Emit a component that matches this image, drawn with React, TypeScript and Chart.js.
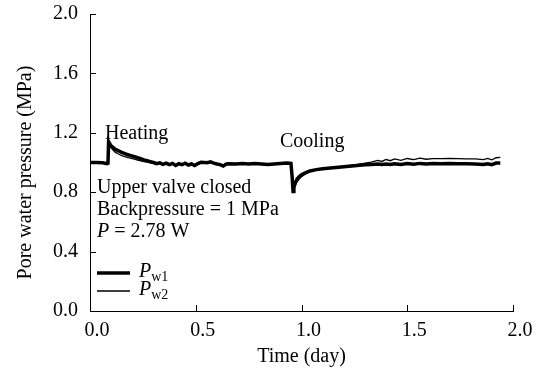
import React, { useEffect, useRef } from "react";
import { Chart, registerables } from "chart.js";

Chart.register(...registerables);

const timeDays = [
  0.0, 0.03, 0.06, 0.08, 0.085, 0.088, 0.092, 0.1, 0.11, 0.12, 0.135, 0.15, 0.165, 0.18, 0.195, 0.21, 0.225,
  0.24, 0.255, 0.27, 0.285, 0.3, 0.315, 0.33, 0.345, 0.36, 0.375, 0.39, 0.405, 0.42, 0.435, 0.45, 0.465, 0.48,
  0.495, 0.51, 0.525, 0.54, 0.555, 0.57, 0.585, 0.6, 0.615, 0.63, 0.645, 0.66, 0.69, 0.72, 0.75, 0.78, 0.81,
  0.84, 0.87, 0.9, 0.93, 0.95, 0.956, 0.96, 0.964, 0.97, 0.98, 0.99, 1.0, 1.02, 1.04, 1.07, 1.1, 1.15, 1.2,
  1.25, 1.3, 1.33, 1.36, 1.38, 1.4, 1.42, 1.44, 1.47, 1.5, 1.53, 1.56, 1.59, 1.62, 1.66, 1.7, 1.74, 1.78, 1.82,
  1.86, 1.88, 1.9, 1.92, 1.94,
];

const pw1 = [
  1.0, 1.0, 0.998, 0.992, 0.995, 1.14, 1.13, 1.112, 1.1, 1.088, 1.078, 1.068, 1.06, 1.052, 1.045, 1.04, 1.032,
  1.025, 1.018, 1.012, 1.006, 1.0, 0.992, 0.998, 0.988, 0.996, 0.986, 0.994, 0.98, 0.992, 0.985, 0.995, 0.983,
  0.99, 0.98, 0.993, 1.002, 1.0, 0.998, 1.004, 0.996, 0.99, 0.986, 0.976, 0.99, 0.992, 0.99, 0.993, 0.99, 0.994,
  0.99, 0.986, 0.99, 0.994, 0.996, 0.994, 0.9, 0.805, 0.83, 0.86, 0.89, 0.905, 0.918, 0.932, 0.943, 0.952, 0.958,
  0.965, 0.972, 0.978, 0.984, 0.986, 0.99, 0.986, 0.99, 0.986, 0.992, 0.987, 0.993, 0.988, 0.994, 0.99, 0.993,
  0.992, 0.993, 0.992, 0.991, 0.99, 0.986, 0.992, 0.985, 0.996, 0.997,
];

const pw2 = [
  1.0, 1.0, 0.998, 0.993, 0.995, 1.125, 1.118, 1.098, 1.082, 1.068, 1.057, 1.047, 1.04, 1.033, 1.027, 1.022, 1.016,
  1.011, 1.006, 1.002, 0.997, 0.994, 0.99, 0.994, 0.985, 0.992, 0.983, 0.99, 0.984, 0.988, 0.982, 0.99, 0.984,
  0.987, 0.983, 0.99, 0.998, 0.996, 0.995, 1.0, 0.993, 0.988, 0.984, 0.978, 0.988, 0.99, 0.989, 0.991, 0.988,
  0.992, 0.989, 0.986, 0.988, 0.993, 0.995, 0.994, 0.93, 0.86, 0.835, 0.85, 0.872, 0.89, 0.905, 0.925, 0.938,
  0.95, 0.957, 0.966, 0.975, 0.984, 0.995, 1.003, 1.014, 1.007, 1.02, 1.012, 1.024, 1.015, 1.027, 1.019, 1.029,
  1.022, 1.026, 1.026, 1.027, 1.026, 1.025, 1.024, 1.019, 1.028, 1.018, 1.032, 1.034,
];

const xTicks = [0, 0.5, 1.0, 1.5, 2.0];
const yTicks = [0, 0.4, 0.8, 1.2, 1.6, 2.0];

const seriesNames = ["w1", "w2"];
const annotationLines = ["Upper valve closed", "Backpressure = 1 MPa", " = 2.78 W"];
const yTitle = "Pore water pressure (MPa)";

const FONT = "'Liberation Serif', 'Times New Roman', serif";

const innerTicksAndText = {
  id: "innerTicksAndText",
  afterDraw(chart: any) {
    const { ctx, chartArea, scales } = chart;
    const xs = scales.x;
    const ys = scales.y;
    ctx.save();
    ctx.strokeStyle = "#000";
    ctx.lineWidth = 1;
    xTicks.forEach((v) => {
      const px = Math.round(xs.getPixelForValue(v)) + 0.5;
      if (v === 0) return;
      ctx.beginPath();
      ctx.moveTo(px, chartArea.bottom);
      ctx.lineTo(px, chartArea.bottom - 6);
      ctx.stroke();
    });
    yTicks.forEach((v) => {
      const py = Math.round(ys.getPixelForValue(v)) + 0.5;
      if (v === 0) return;
      ctx.beginPath();
      ctx.moveTo(chartArea.left, py);
      ctx.lineTo(chartArea.left + 6, py);
      ctx.stroke();
    });

    ctx.fillStyle = "#000";
    ctx.textBaseline = "alphabetic";
    ctx.textAlign = "left";
    ctx.font = `20px ${FONT}`;
    ctx.fillText("Heating", xs.getPixelForValue(0.071), ys.getPixelForValue(1.158));
    ctx.fillText("Cooling", xs.getPixelForValue(0.898), ys.getPixelForValue(1.104));
    const ax = xs.getPixelForValue(0.033);
    ctx.fillText(annotationLines[0], ax, ys.getPixelForValue(0.794));
    ctx.fillText(annotationLines[1], ax, ys.getPixelForValue(0.646));
    const py3 = ys.getPixelForValue(0.499);
    ctx.font = `italic 20px ${FONT}`;
    ctx.fillText("P", ax, py3);
    const pw = ctx.measureText("P").width;
    ctx.font = `20px ${FONT}`;
    ctx.fillText(annotationLines[2], ax + pw, py3);

    // y-axis title
    ctx.save();
    ctx.translate(26, (chartArea.top + chartArea.bottom) / 2 + 10);
    ctx.rotate(-Math.PI / 2);
    ctx.textAlign = "center";
    ctx.textBaseline = "middle";
    ctx.font = `20px ${FONT}`;
    ctx.fillText(yTitle, 0, 0);
    ctx.restore();

    // legend
    ctx.textAlign = "left";
    ctx.textBaseline = "alphabetic";
    const lx = chartArea.left + 7;
    const widths = [3.5, 1.3];
    const rows = [chartArea.bottom - 38, chartArea.bottom - 20];
    rows.forEach((ry, i) => {
      ctx.lineWidth = widths[i];
      ctx.beginPath();
      ctx.moveTo(lx, ry);
      ctx.lineTo(lx + 33, ry);
      ctx.stroke();
      ctx.font = `italic 20px ${FONT}`;
      ctx.fillText("P", lx + 42, ry + 4);
      const w = ctx.measureText("P").width;
      ctx.font = `14px ${FONT}`;
      ctx.fillText(seriesNames[i], lx + 42 + w, ry + 8);
    });
    ctx.restore();
  },
};

export default function App() {
  const ref = useRef<HTMLCanvasElement | null>(null);
  useEffect(() => {
    if (!ref.current) return;
    const chart = new Chart(ref.current, {
      type: "line",
      data: {
        datasets: [
          {
            label: "Pw1",
            data: timeDays.map((t, i) => ({ x: t, y: pw1[i] })),
            borderColor: "#000",
            borderWidth: 3.5,
            pointRadius: 0,
            tension: 0,
          },
          {
            label: "Pw2",
            data: timeDays.map((t, i) => ({ x: t, y: pw2[i] })),
            borderColor: "#000",
            borderWidth: 1.3,
            pointRadius: 0,
            tension: 0,
          },
        ],
      },
      options: {
        responsive: false,
        animation: false,
        layout: { padding: { left: 0, right: 27, top: 14, bottom: 0 } },
        plugins: { legend: { display: false }, tooltip: { enabled: false } },
        scales: {
          x: {
            type: "linear",
            min: 0,
            max: 2,
            afterFit: (s: any) => {
              s.height = 61;
              s.paddingLeft = 0;
              s.paddingRight = 0;
            },
            afterBuildTicks: (s: any) => {
              s.ticks = xTicks.map((v) => ({ value: v }));
            },
            grid: { display: false, drawTicks: false },
            border: { display: true, color: "#000", width: 1 },
            ticks: {
              color: "#000",
              padding: 8,
              labelOffset: 7,
              font: { family: FONT, size: 20 },
              maxRotation: 0,
              callback: (v: any) => Number(v).toFixed(1),
            },
            title: {
              display: true,
              text: "Time (day)",
              color: "#000",
              font: { family: FONT, size: 20 },
              padding: { top: 0, bottom: 3 },
            },
          },
          y: {
            type: "linear",
            min: 0,
            max: 2,
            afterFit: (s: any) => {
              s.width = 90;
              s.paddingTop = 0;
              s.paddingBottom = 0;
            },
            afterBuildTicks: (s: any) => {
              s.ticks = yTicks.map((v) => ({ value: v }));
            },
            grid: { display: false, drawTicks: false },
            border: { display: true, color: "#000", width: 1 },
            ticks: {
              color: "#000",
              padding: 12,
              font: { family: FONT, size: 20 },
              callback: (v: any) => Number(v).toFixed(1),
            },
            title: { display: false },
          },
        },
      },
      plugins: [innerTicksAndText],
    });
    return () => chart.destroy();
  }, []);
  return (
    <div style={{ position: "fixed", left: 0, top: 0, width: 540, height: 372, background: "#fff" }}>
      <canvas ref={ref} width={540} height={372} style={{ display: "block" }} />
    </div>
  );
}
